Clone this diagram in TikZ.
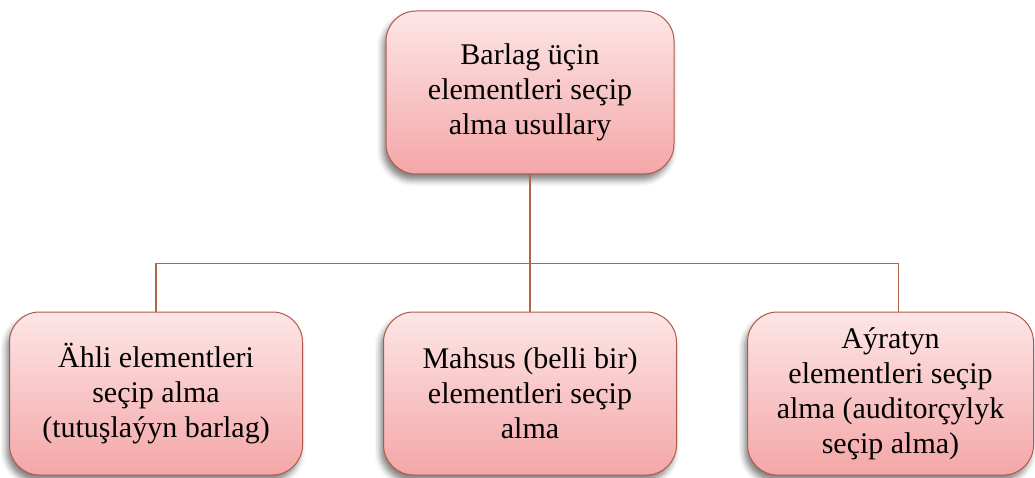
\documentclass[tikz,border=0pt]{standalone}
\usepackage{fontspec}
\setmainfont{Liberation Serif}
\usetikzlibrary{positioning,shadows.blur}
\definecolor{pinktop}{HTML}{FDE6E6}
\definecolor{pinkbot}{HTML}{F4A6A7}
\definecolor{edgered}{HTML}{B0594B}
\definecolor{linkred}{HTML}{B5614F}

\begin{document}
\begin{tikzpicture}[
		usul/.style={
			draw=edgered,
			line width=1pt,
			rounded corners=30pt,
			top color=pinktop,
			bottom color=pinkbot,
			align=center,
			font=\fontsize{30}{35}\selectfont,
			minimum height=163pt,
			blur shadow={shadow xshift=-3pt, shadow yshift=-6pt,
				shadow blur radius=6pt, shadow opacity=50}
		},
		link/.style={
			draw=linkred,
			line width=1.6pt
		},
		node distance=137pt
		]
		\useasboundingbox (0,0) rectangle (1035pt,-478pt);
		
		\node[usul, minimum width=288pt] at (530pt,-92.5pt)
		(usul) {Barlag üçin\\elementleri seçip\\alma usullary};
		
		\node[usul, minimum width=293pt, below=of usul]
		(mahsus) {Mahsus (belli bir)\\elementleri seçip\\alma};
		\node[usul, minimum width=293pt, left=80pt of mahsus]
		(ahli) {Ähli elementleri\\seçip alma\\(tutuşlaýyn barlag)};
		\node[usul, minimum width=286pt, right=70pt of mahsus]
		(ayratyn) {Aýratyn\\elementleri seçip\\alma (auditorçylyk\\seçip alma)};
		
		% agac
		\coordinate (bar) at ([yshift=-89pt]usul.south);
		\coordinate (ayr) at ([xshift=8pt]ayratyn.north);
		\draw[link] (usul.south) -- (mahsus.north);
		\draw[link] (ahli.north) |- (bar) -| (ayr);
		
	\end{tikzpicture}
\end{document}
